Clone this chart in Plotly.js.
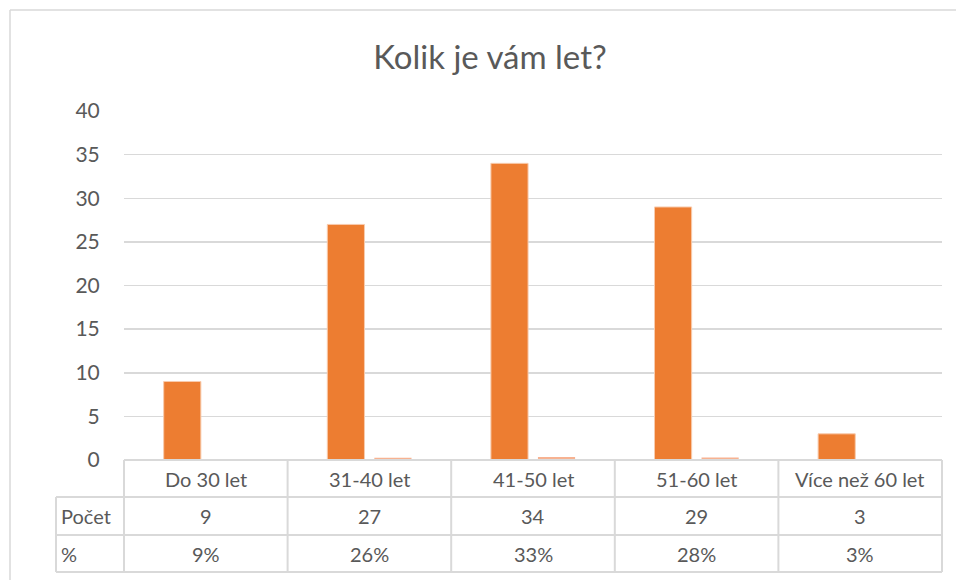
<!DOCTYPE html>
<html><head><meta charset="utf-8">
<script src="https://cdn.plot.ly/plotly-3.0.1.min.js"></script>
<style>html,body{margin:0;padding:0;background:#fff}#chart{width:957px;height:580px}</style>
</head><body><div id="chart"></div>
<script>
const categories = ["Do 30 let", "31-40 let", "41-50 let", "51-60 let", "Více než 60 let"];
const counts = [9, 27, 34, 29, 3];
const pct = [0.09, 0.26, 0.33, 0.28, 0.03];
const rowNames = ["Počet", "%"];
const title = "Kolik je vám let?";

const FONT = "Lato, 'Open Sans', sans-serif";
const TXT = "#595959";
const GRID = "#D9D9D9";

const L = 124, R = 942, T = 111, B = 460;
const px = x => (x - L) / (R - L);
const py = y => (B - y) / (B - T);

const rowY = [460, 497, 535, 572];
const tableLeft = 56;

const traces = [
  {type: "bar", name: rowNames[0], x: categories, y: counts,
   marker: {color: "#ED7D31", line: {color: "#F8CBAD", width: 1}}, hoverinfo: "skip"},
  {type: "bar", name: rowNames[1], x: categories, y: pct,
   marker: {color: "#F7B291", line: {width: 0}}, hoverinfo: "skip"}
];

const shapes = [];
const line = (x0, y0, x1, y1) => shapes.push({type: "line", xref: "paper", yref: "paper",
  x0, y0, x1, y1, line: {color: GRID, width: 2}, layer: "above"});
line(px(L), py(rowY[0]), px(R), py(rowY[0]));
for (let i = 1; i < rowY.length; i++) line(px(tableLeft), py(rowY[i]), px(R), py(rowY[i]));
line(px(tableLeft), py(rowY[1]), px(tableLeft), py(rowY[3]));
for (let k = 0; k <= categories.length; k++) {
  const xx = px(L + k * (R - L) / categories.length);
  line(xx, py(rowY[0]), xx, py(rowY[3]));
}
shapes.push({type: "line", xref: "paper", yref: "paper", x0: px(10), y0: py(10), x1: px(956), y1: py(10), line: {color: GRID, width: 1.5}});
shapes.push({type: "line", xref: "paper", yref: "paper", x0: px(10), y0: py(10), x1: px(10), y1: py(580), line: {color: GRID, width: 1.5}});

const annotations = [];
const rc = i => py((rowY[i] + rowY[i + 1]) / 2);
const f = {family: FONT, size: 20, color: TXT};
categories.forEach((c, i) => {
  annotations.push({xref: "x", yref: "paper", x: c, y: rc(0), yanchor: "middle", xanchor: "center", text: c, showarrow: false, font: f});
  annotations.push({xref: "x", yref: "paper", x: c, y: rc(1), yanchor: "middle", xanchor: "center", text: String(counts[i]), showarrow: false, font: f});
  annotations.push({xref: "x", yref: "paper", x: c, y: rc(2), yanchor: "middle", xanchor: "center", text: Math.round(pct[i] * 100) + "%", showarrow: false, font: f});
});
rowNames.forEach((n, j) => {
  annotations.push({xref: "paper", yref: "paper", x: px(59), y: rc(j + 1), xanchor: "left", yanchor: "middle", text: n, showarrow: false, font: f});
});

const layout = {
  width: 957, height: 580,
  margin: {l: L, r: 957 - R, t: T, b: 580 - B, pad: 0},
  paper_bgcolor: "#fff", plot_bgcolor: "#fff",
  title: {text: title, x: 0.512, xanchor: "center", y: 1 - 57 / 580, yanchor: "middle", font: {family: FONT, size: 33, color: TXT}},
  showlegend: false,
  barmode: "group", bargap: 0.425, bargroupgap: 0.21,
  xaxis: {showticklabels: false, showgrid: false, zeroline: false, showline: false, ticks: ""},
  yaxis: {range: [0, 40], dtick: 5, tick0: 0, showgrid: true, gridcolor: GRID, gridwidth: 1.5, zeroline: false, showline: false,
          ticks: "outside", ticklen: 19, tickcolor: "rgba(0,0,0,0)",
          tickfont: {family: FONT, size: 21, color: TXT}},
  shapes, annotations
};
Plotly.newPlot("chart", traces, layout, {displayModeBar: false, staticPlot: true});
</script></body></html>
